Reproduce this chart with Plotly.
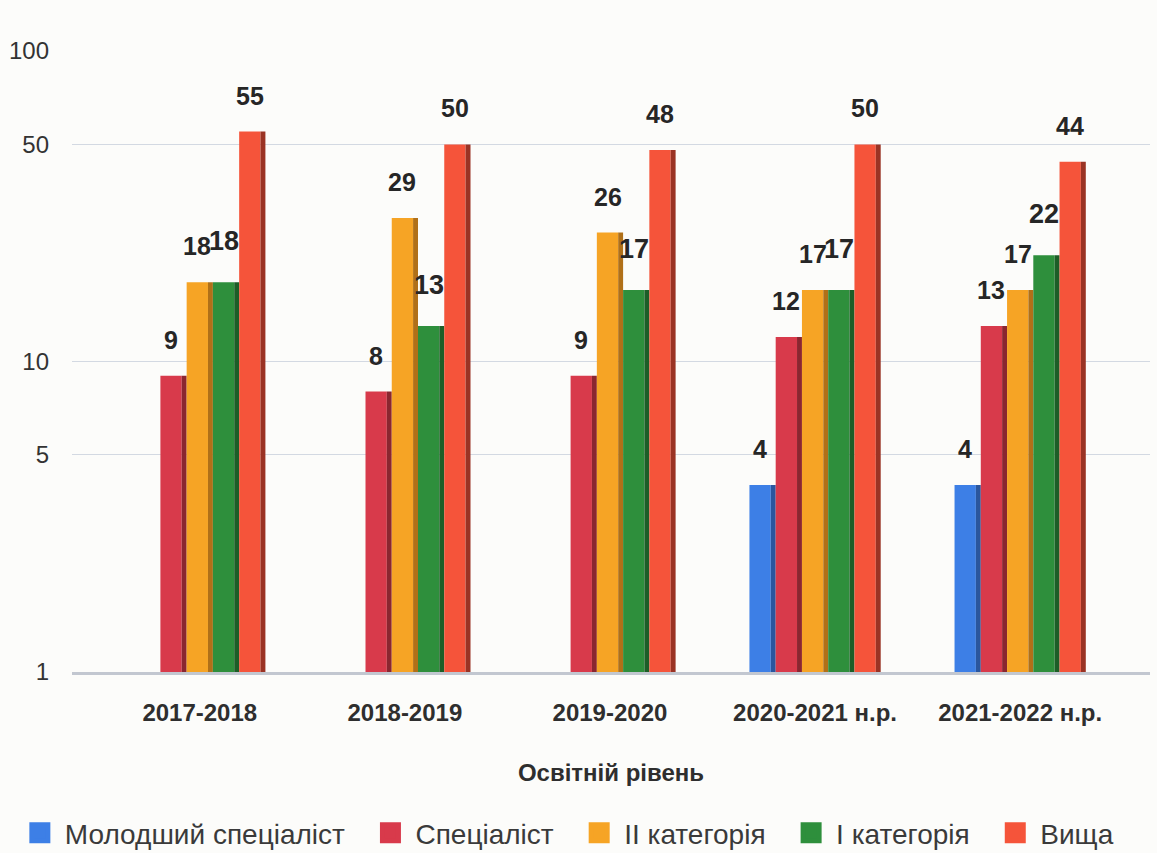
import math
import plotly.graph_objects as go

categories = ["2017-2018", "2018-2019", "2019-2020", "2020-2021 н.р.", "2021-2022 н.р."]
series_names = ["Молодший спеціаліст", "Спеціаліст", "ІІ категорія", "І категорія", "Вища"]
molodshyi = [None, None, None, 4, 4]
spetsialist = [9, 8, 9, 12, 13]
kat2 = [18, 29, 26, 17, 17]
kat1 = [18, 13, 17, 17, 22]
vyshcha = [55, 50, 48, 50, 44]
y_ticks = [1, 5, 10, 50, 100]

series_values = [molodshyi, spetsialist, kat2, kat1, vyshcha]
front_colors = ["#3d7fe6", "#d83a4b", "#f6a425", "#2e8f3c", "#f5543a"]
side_colors = ["#2a569e", "#8a2630", "#b07018", "#1d5e27", "#9a3324"]

slot = 0.128
start = -0.32
front_w = 0.104
side_w = 0.024

fig = go.Figure()
annotations = []
for i, (name, vals) in enumerate(zip(series_names, series_values)):
    off = start + i * slot
    fig.add_trace(go.Bar(
        x=categories, y=vals, name=name,
        marker=dict(color=front_colors[i], line=dict(width=0)),
        offset=off, width=front_w, legendgroup=name, showlegend=False,
    ))
    fig.add_trace(go.Bar(
        x=categories, y=vals, name=name + " side",
        marker=dict(color=side_colors[i], line=dict(width=0)),
        offset=off + front_w, width=side_w, legendgroup=name, showlegend=False,
        hoverinfo="skip",
    ))
    # legend entry with a larger square swatch
    fig.add_trace(go.Scatter(
        x=[None], y=[None], mode="markers", name=name + "\u00a0\u00a0", legendgroup=name,
        marker=dict(symbol="square", size=16, color=front_colors[i],
                    line=dict(width=8, color=front_colors[i])),
        showlegend=True,
    ))
    for j, v in enumerate(vals):
        if v is None:
            continue
        annotations.append(dict(
            x=j + off + front_w / 2, y=math.log10(v), xref="x", yref="y",
            text=f"<b>{v}</b>", showarrow=False, yanchor="middle",
            yshift=36 if i != 3 else 41,
            font=dict(family="Liberation Sans, Arial", size=25 if i != 3 else 27, color="#262626"),
        ))

fig.update_layout(
    width=1157, height=853,
    barmode="overlay",
    paper_bgcolor="#fcfcfa", plot_bgcolor="#fcfcfa",
    margin=dict(l=72, r=7, t=50, b=181, autoexpand=False),
    font=dict(family="Liberation Sans, Arial", color="#333333"),
    annotations=annotations,
    legend=dict(
        orientation="h", x=-0.053, xanchor="left", y=-0.259, yanchor="middle",
        font=dict(size=28, color="#3a3a3a"), itemwidth=40,
        bgcolor="rgba(0,0,0,0)", traceorder="normal", tracegroupgap=0,
    ),
    showlegend=True,
)
fig.update_xaxes(
    type="category", range=[-0.623, 4.633], automargin=False,
    showgrid=False, showline=True, linecolor="#c2c7d0", linewidth=3,
    ticks="", ticklabelstandoff=17,
    tickfont=dict(size=24, color="#2e2e2e", family="Liberation Sans, Arial", weight="bold"),
    title=dict(text="<b>Освітній рівень</b>", font=dict(size=24, color="#2e2e2e"), standoff=40),
)
fig.update_yaxes(
    type="log", range=[0, 2.003], automargin=False,
    tickvals=y_ticks, ticktext=[str(t) for t in y_ticks],
    showgrid=True, gridcolor="#d3d9e2", gridwidth=1,
    ticks="", ticklabelstandoff=22,
    tickfont=dict(size=24, color="#333333"),
    zeroline=False,
)

fig.write_html(
    "out.html",
    config={"displayModeBar": False},
    post_script="document.body.style.margin='0px';document.body.style.overflow='hidden';",
)
